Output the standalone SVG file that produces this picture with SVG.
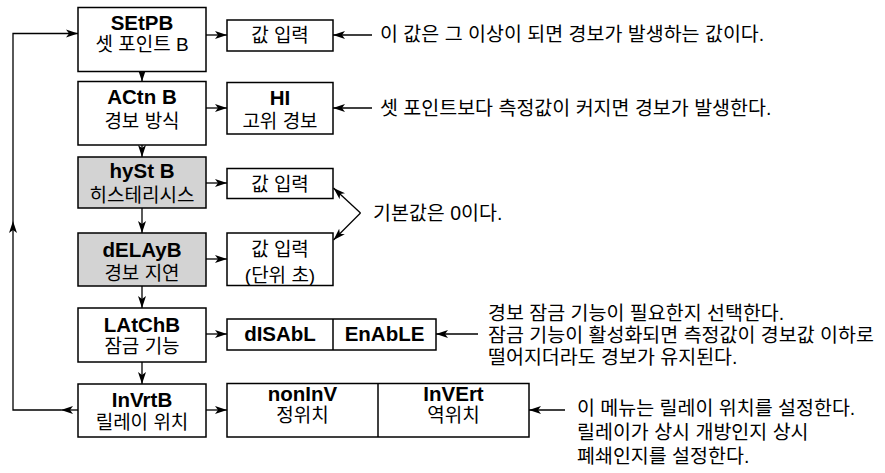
<svg xmlns="http://www.w3.org/2000/svg" width="885" height="473" viewBox="0 0 885 473">
<style>
.box{fill:#fff;stroke:#000;stroke-width:1.5}
.gray{fill:#d3d3d3;stroke:#000;stroke-width:1.5}
.ln{fill:none;stroke:#000;stroke-width:1.3}
.t{font-family:"Liberation Sans","Noto Sans CJK KR",sans-serif;font-weight:bold;font-size:20.5px;text-anchor:middle;fill:#000}
.k{font-family:"Liberation Sans","Noto Sans CJK KR",sans-serif;font-size:19px;text-anchor:middle;fill:#000}
.a{font-family:"Liberation Sans","Noto Sans CJK KR",sans-serif;font-size:19.5px;fill:#000}
</style>
<defs>
<marker id="ah" markerUnits="userSpaceOnUse" markerWidth="12" markerHeight="10" viewBox="0 0 12 10" refX="12" refY="5" orient="auto">
<path d="M0,1 L12,5 L0,9 L3,5 z" fill="#000"/>
</marker>
</defs>

<g id="connectors">
<line class="ln" x1="142" y1="71.5" x2="142" y2="81.5" marker-end="url(#ah)"/>
<line class="ln" x1="142" y1="145" x2="142" y2="157" marker-end="url(#ah)"/>
<line class="ln" x1="142" y1="208" x2="142" y2="233" marker-end="url(#ah)"/>
<line class="ln" x1="142" y1="286" x2="142" y2="308" marker-end="url(#ah)"/>
<line class="ln" x1="142" y1="362" x2="142" y2="384" marker-end="url(#ah)"/>
<line class="ln" x1="206" y1="35" x2="227" y2="35" marker-end="url(#ah)"/>
<line class="ln" x1="206" y1="108" x2="227" y2="108" marker-end="url(#ah)"/>
<line class="ln" x1="206" y1="183" x2="227" y2="183" marker-end="url(#ah)"/>
<line class="ln" x1="206" y1="259" x2="227" y2="259" marker-end="url(#ah)"/>
<line class="ln" x1="206" y1="334" x2="227" y2="334" marker-end="url(#ah)"/>
<line class="ln" x1="206" y1="410" x2="227" y2="410" marker-end="url(#ah)"/>
<line class="ln" x1="78" y1="410" x2="61" y2="410" marker-end="url(#ah)"/>
<path class="ln" d="M61,410 H13 V221" marker-end="url(#ah)"/>
<path class="ln" d="M13,221 V33.5 H78" marker-end="url(#ah)"/>
<line class="ln" x1="372" y1="35" x2="333" y2="35" marker-end="url(#ah)"/>
<line class="ln" x1="372" y1="108" x2="333" y2="108" marker-end="url(#ah)"/>
<line class="ln" x1="478" y1="334" x2="436" y2="334" marker-end="url(#ah)"/>
<line class="ln" x1="565" y1="410" x2="529" y2="410" marker-end="url(#ah)"/>
<line class="ln" x1="360.5" y1="213" x2="333.5" y2="188" marker-end="url(#ah)"/>
<line class="ln" x1="360.5" y1="213" x2="333.5" y2="240" marker-end="url(#ah)"/>
</g>

<g id="setpb">
<rect class="box" x="78" y="7.5" width="128" height="64"/>
<text class="t" x="142" y="29.5">SEtPB</text>
<text class="k" x="142" y="51">셋 포인트 B</text>
</g>
<g id="setpb-val">
<rect class="box" x="227" y="20" width="106" height="31"/>
<text class="k" x="280" y="42">값 입력</text>
</g>

<g id="actnb">
<rect class="box" x="78" y="81.5" width="128" height="63.5"/>
<text class="t" x="142" y="104">ACtn B</text>
<text class="k" x="142" y="127.5">경보 방식</text>
</g>
<g id="actnb-val">
<rect class="box" x="227" y="82.5" width="106" height="51.5"/>
<text class="t" x="280" y="105">HI</text>
<text class="k" x="280" y="127.5">고위 경보</text>
</g>

<g id="hystb">
<rect class="gray" x="78" y="157" width="128" height="51"/>
<text class="t" x="142" y="178">hySt B</text>
<text class="k" x="142" y="201.5">히스테리시스</text>
</g>
<g id="hystb-val">
<rect class="box" x="227" y="168.5" width="106" height="30"/>
<text class="k" x="280" y="190.5">값 입력</text>
</g>

<g id="delayb">
<rect class="gray" x="78" y="233" width="128" height="53"/>
<text class="t" x="142" y="256.5">dELAyB</text>
<text class="k" x="142" y="279.5">경보 지연</text>
</g>
<g id="delayb-val">
<rect class="box" x="227" y="233" width="106" height="52.5"/>
<text class="k" x="280" y="255.5">값 입력</text>
<text class="k" x="280" y="281.5">(단위 초)</text>
</g>

<g id="latchb">
<rect class="box" x="78" y="308" width="128" height="54"/>
<text class="t" x="142" y="331.5">LAtChB</text>
<text class="k" x="142" y="352.5">잠금 기능</text>
</g>
<g id="latchb-val">
<rect class="box" x="227" y="319" width="209" height="31"/>
<line class="ln" x1="333" y1="319" x2="333" y2="350" style="stroke-width:1.5"/>
<text class="t" x="280" y="341">dISAbL</text>
<text class="t" x="384.5" y="341">EnAbLE</text>
</g>

<g id="invrtb">
<rect class="box" x="78" y="384" width="128" height="53"/>
<text class="t" x="142" y="407">InVrtB</text>
<text class="k" x="142" y="428.5">릴레이 위치</text>
</g>
<g id="invrtb-val">
<rect class="box" x="227" y="383.5" width="302" height="53.5"/>
<line class="ln" x1="378" y1="383.5" x2="378" y2="437" style="stroke-width:1.5"/>
<text class="t" x="302.5" y="401">nonInV</text>
<text class="k" x="302.5" y="422">정위치</text>
<text class="t" x="453.5" y="401">InVErt</text>
<text class="k" x="453.5" y="422">역위치</text>
</g>

<g id="notes">
<text class="a" x="380" y="41">이 값은 그 이상이 되면 경보가 발생하는 값이다.</text>
<text class="a" x="380" y="114.5">셋 포인트보다 측정값이 커지면 경보가 발생한다.</text>
<text class="a" x="373" y="220">기본값은 0이다.</text>
<text class="a" x="488" y="320">경보 잠금 기능이 필요한지 선택한다.</text>
<text class="a" x="488" y="341.5">잠금 기능이 활성화되면 측정값이 경보값 이하로</text>
<text class="a" x="488" y="363.5">떨어지더라도 경보가 유지된다.</text>
<text class="a" x="577" y="415">이 메뉴는 릴레이 위치를 설정한다.</text>
<text class="a" x="577" y="439">릴레이가 상시 개방인지 상시</text>
<text class="a" x="577" y="463">폐쇄인지를 설정한다.</text>
</g>
</svg>
